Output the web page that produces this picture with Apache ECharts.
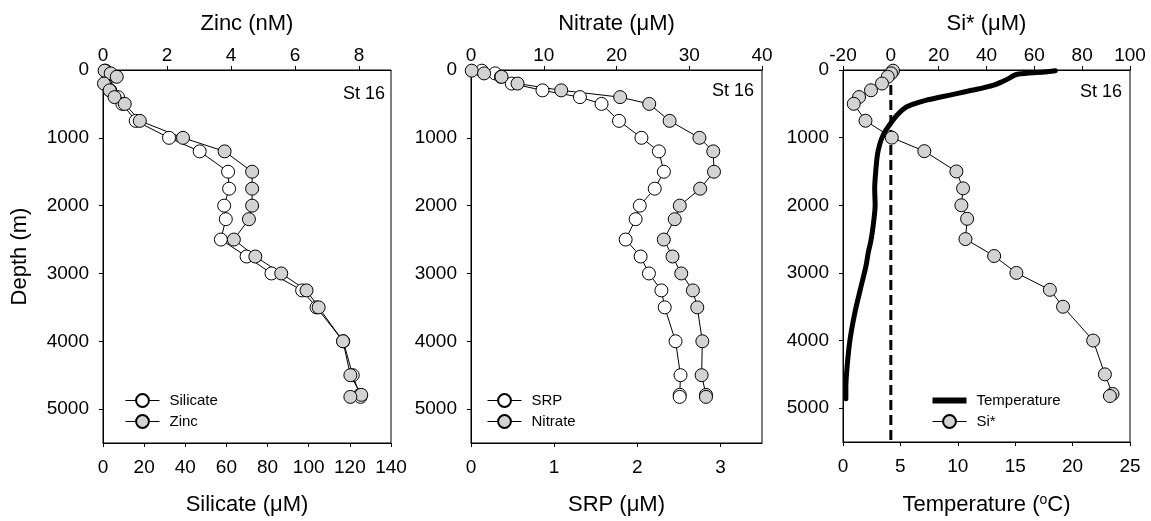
<!DOCTYPE html>
<html>
<head>
<meta charset="utf-8">
<script src="https://cdn.jsdelivr.net/npm/echarts@6/dist/echarts.min.js"></script>
<style>
html,body{margin:0;padding:0;background:#fff;}
#chart{width:1151px;height:521px;}
</style>
</head>
<body>
<div id="chart"></div>
<script>
// ---- data ----
const depths = [10, 50, 100, 200, 300, 400, 500, 750, 1000, 1200, 1500, 1750, 2000, 2200, 2500, 2750, 3000, 3250, 3500, 4000, 4500, 4790, 4820];
const silicate = [1.2, 2.5, 3.5, 1.0, 3.5, 7.3, 9.4, 15.9, 32.1, 47.0, 60.8, 61.3, 58.9, 59.7, 57.3, 69.8, 81.9, 96.8, 103.8, 116.8, 121.4, 124.9, 125.2];
const zinc = [0.05, 0.24, 0.43, 0.03, 0.21, 0.36, 0.68, 1.15, 2.5, 3.8, 4.66, 4.66, 4.66, 4.56, 4.09, 4.76, 5.57, 6.36, 6.74, 7.5, 7.73, 8.07, 7.73];
const srp = [0.13, 0.29, 0.36, 0.49, 0.86, 1.31, 1.57, 1.78, 2.05, 2.26, 2.32, 2.21, 2.03, 1.98, 1.86, 2.04, 2.14, 2.29, 2.33, 2.46, 2.52, 2.51, 2.51];
const nitrate = [0.1, 1.8, 4.2, 6.4, 12.4, 20.5, 24.5, 27.3, 31.4, 33.3, 33.4, 31.5, 28.7, 28.0, 26.5, 27.7, 28.9, 30.5, 31.1, 31.8, 31.7, 32.3, 32.3];
const siStar = [0.9, 0.1, -1.3, -3.7, -8.3, -13.3, -15.5, -10.6, 0.4, 14.0, 27.4, 30.2, 29.5, 31.9, 31.2, 43.2, 52.5, 66.5, 72.0, 84.6, 89.5, 92.7, 91.6];
const tempDepths = [10, 30, 60, 80, 120, 170, 220, 260, 300, 350, 400, 450, 500, 550, 650, 775, 900, 1000, 1100, 1250, 1500, 1750, 2000, 2200, 2400, 2550, 2700, 2900, 3250, 3600, 4000, 4400, 4700, 4860];
const temperature = [18.5, 17.5, 15.3, 14.9, 14.5, 13.9, 13.2, 12.3, 11.2, 9.9, 8.5, 7.2, 6.2, 5.5, 4.8, 4.2, 3.7, 3.4, 3.2, 3.0, 2.85, 2.76, 2.8, 2.7, 2.55, 2.4, 2.2, 2.0, 1.5, 1.02, 0.6, 0.35, 0.25, 0.25];
const siStarZeroLine = [0, 0];
const siStarZeroDepths = [0, 5500];

const depthTicks = [0, 1000, 2000, 3000, 4000, 5000];
const silicateTicks = [0, 20, 40, 60, 80, 100, 120, 140];
const zincTicks = [0, 2, 4, 6, 8];
const srpTicks = [0, 1, 2, 3];
const nitrateTicks = [0, 10, 20, 30, 40];
const tempTicks = [0, 5, 10, 15, 20, 25];
const siStarTicks = [-20, 0, 20, 40, 60, 80, 100];
const stationLabels = ['St 16', 'St 16', 'St 16'];

// ---- chart ----
const FONT = 'Liberation Sans, Arial, sans-serif';
const pair = (xs, ys) => xs.map((v, i) => [v, ys[i]]);
const plain = v => String(v);
const grids = [
  {left: 103, top: 70, width: 288, height: 375},
  {left: 471, top: 70, width: 291, height: 375},
  {left: 843, top: 70, width: 287, height: 375}
];

function xAx(grid, pos, name, min, max, ticks, nameGap) {
  return {
    type: 'value', gridIndex: grid, position: pos, min: min, max: max,
    name: name, nameLocation: 'middle', nameGap: nameGap,
    nameTextStyle: {fontFamily: FONT, fontSize: 22, color: '#000'},
    axisLine: {show: true, onZero: false, lineStyle: {color: '#000', width: 1}},
    axisTick: {show: true, inside: false, length: 4, customValues: ticks, lineStyle: {color: '#000'}},
    axisLabel: {customValues: ticks, formatter: plain, fontFamily: FONT, fontSize: 19, color: '#000', margin: pos === 'top' ? 5 : 15},
    splitLine: {show: false}
  };
}
function yAx(grid, name) {
  return {
    type: 'value', gridIndex: grid, inverse: true, min: 0, max: 5500,
    name: name, nameLocation: 'middle', nameGap: 72,
    nameTextStyle: {fontFamily: FONT, fontSize: 22, color: '#000'},
    axisLine: {show: true, onZero: false, lineStyle: {color: '#000', width: 1}},
    axisTick: {show: true, inside: false, length: 4, customValues: depthTicks, lineStyle: {color: '#000'}},
    axisLabel: {customValues: depthTicks, formatter: plain, fontFamily: FONT, fontSize: 19, color: '#000', margin: 14},
    splitLine: {show: false}
  };
}

function markerSeries(name, xi, yi, data, fill) {
  return {
    name: name, type: 'line', xAxisIndex: xi, yAxisIndex: yi, data: data,
    symbol: 'circle', symbolSize: 13, showSymbol: true,
    lineStyle: {color: '#000', width: 1},
    itemStyle: {color: fill, borderColor: '#000', borderWidth: 1},
    emphasis: {disabled: true}, animation: false
  };
}

const WHITE = '#ffffff', GRAY = '#d3d3d3';

const legendBase = {
  orient: 'vertical', itemWidth: 34, itemHeight: 16, itemGap: 6, padding: 0,
  textStyle: {fontFamily: FONT, fontSize: 15, color: '#000', padding: [0, 0, 0, 5]},
  lineStyle: {width: 1, color: '#000'},
  selectedMode: false
};

const option = {
  animation: false,
  backgroundColor: '#fff',
  grid: grids.map(g => Object.assign({show: true, borderColor: '#000', borderWidth: 1, backgroundColor: 'transparent'}, g)),
  xAxis: [
    xAx(0, 'bottom', 'Silicate (\u03bcM)', 0, 140, silicateTicks, 51),
    xAx(0, 'top', 'Zinc (nM)', 0, 9, zincTicks, 35),
    xAx(1, 'bottom', 'SRP (\u03bcM)', 0, 3.5, srpTicks, 51),
    xAx(1, 'top', 'Nitrate (\u03bcM)', 0, 40, nitrateTicks, 35),
    xAx(2, 'bottom', 'Temperature ({sup|o}C)', 0, 25, tempTicks, 51),
    xAx(2, 'top', 'Si* (\u03bcM)', -20, 100, siStarTicks, 35)
  ],
  yAxis: [yAx(0, 'Depth (m)'), yAx(1, ''), yAx(2, '')],
  legend: [
    Object.assign({}, legendBase, {left: 125, top: 393, data: ['Silicate', 'Zinc']}),
    Object.assign({}, legendBase, {left: 487, top: 393, data: ['SRP', 'Nitrate']}),
    Object.assign({}, legendBase, {left: 932, top: 393, data: [
      {name: 'Temperature', icon: 'path://M0,0L34,0L34,6L0,6Z', itemStyle: {color: '#000', borderWidth: 0}},
      'Si*'
    ]})
  ],
  graphic: [
    {type: 'text', x: 385, y: 94, style: {text: stationLabels[0], fontFamily: FONT, fontSize: 18, fill: '#000', textAlign: 'right', textVerticalAlign: 'middle'}},
    {type: 'text', x: 754, y: 91, style: {text: stationLabels[1], fontFamily: FONT, fontSize: 18, fill: '#000', textAlign: 'right', textVerticalAlign: 'middle'}},
    {type: 'text', x: 1122, y: 92, style: {text: stationLabels[2], fontFamily: FONT, fontSize: 18, fill: '#000', textAlign: 'right', textVerticalAlign: 'middle'}}
  ],
  series: [
    markerSeries('Silicate', 0, 0, pair(silicate, depths), WHITE),
    markerSeries('Zinc', 1, 0, pair(zinc, depths), GRAY),
    markerSeries('SRP', 2, 1, pair(srp, depths), WHITE),
    markerSeries('Nitrate', 3, 1, pair(nitrate, depths), GRAY),
    {
      name: 'zero', type: 'line', xAxisIndex: 5, yAxisIndex: 2,
      data: pair(siStarZeroLine, siStarZeroDepths), symbol: 'none',
      lineStyle: {color: '#000', width: 3, type: [10, 5]}, emphasis: {disabled: true}, silent: true
    },
    {
      name: 'Temperature', type: 'line', xAxisIndex: 4, yAxisIndex: 2,
      data: pair(temperature, tempDepths), symbol: 'none', smooth: 0.3,
      lineStyle: {color: '#000', width: 5, cap: 'round', join: 'round'},
      itemStyle: {color: '#000'}, emphasis: {disabled: true}
    },
    markerSeries('Si*', 5, 2, pair(siStar, depths), GRAY)
  ]
};
option.xAxis[4].nameTextStyle.rich = {sup: {fontFamily: FONT, fontSize: 14, color: '#000', verticalAlign: 'top', padding: [0, 0, 10, 0]}};

const chart = echarts.init(document.getElementById('chart'), null, {renderer: 'canvas'});
chart.setOption(option);
</script>
</body>
</html>
